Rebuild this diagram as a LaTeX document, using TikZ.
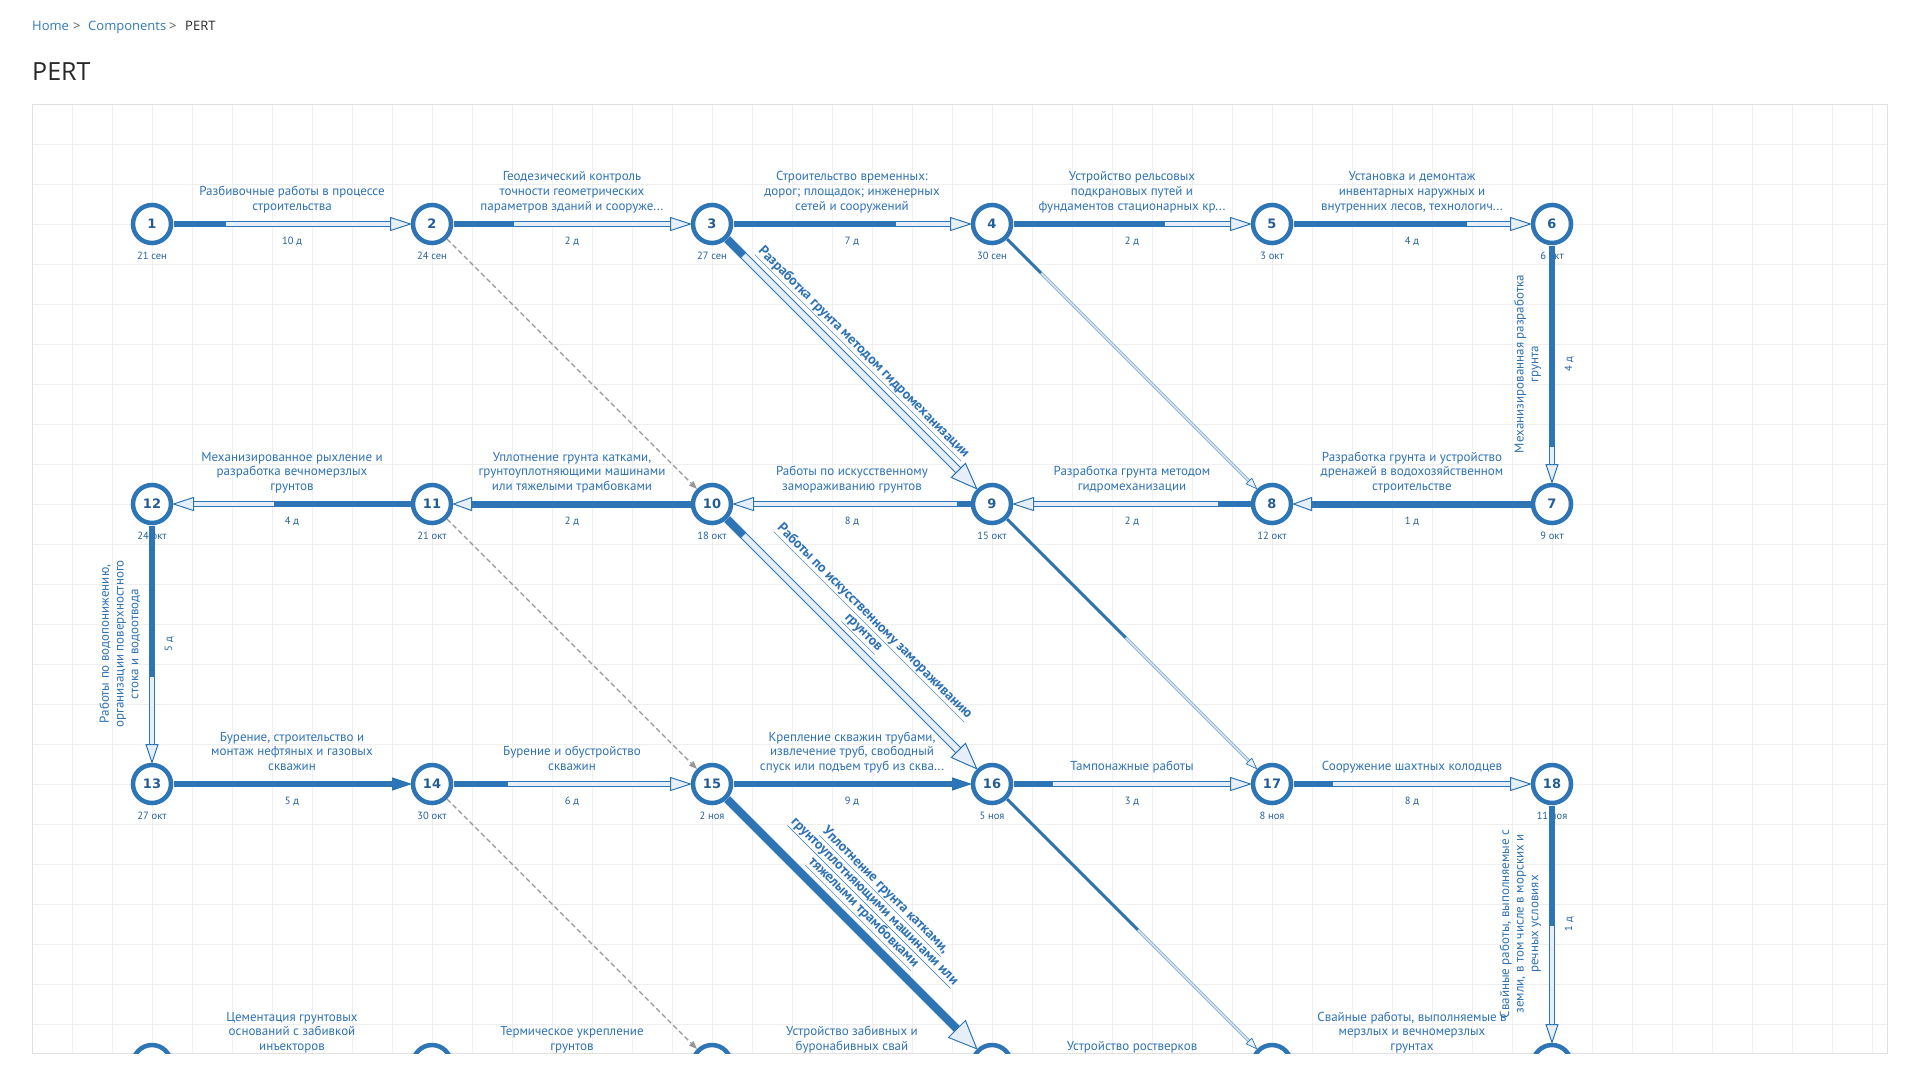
\documentclass[tikz,border=0pt]{standalone}
\usepackage{fontspec}
\setmainfont{PT Sans}
\newfontfamily\crumbfont{Open Sans}
\newfontfamily\numfont{DejaVu Sans}
\usetikzlibrary{calc,arrows.meta}

\definecolor{pblue}{RGB}{46,117,182}
\definecolor{plight}{RGB}{230,239,249}
\definecolor{ptext}{RGB}{47,114,180}
\definecolor{psmall}{RGB}{38,96,156}
\definecolor{numblue}{RGB}{36,92,150}
\definecolor{dgray}{RGB}{150,150,150}
\definecolor{gridc}{RGB}{239,239,239}
\definecolor{framec}{RGB}{224,224,224}
\definecolor{linkblue}{RGB}{51,122,183}
\definecolor{crumbsep}{RGB}{90,90,90}
\definecolor{headc}{RGB}{40,40,40}

\pgfdeclarelayer{back}
\pgfdeclarelayer{links}
\pgfsetlayers{back,links,main}

% activity arrow: from, to, progress, shaft width, tip length, tip half-width, tip fill
\newcommand\pertlink[7]{%
  \coordinate (es) at ($(#1.center)!21.5pt!(#2.center)$);
  \coordinate (ee) at ($(#2.center)!21.5pt!(#1.center)$);
  \coordinate (eb) at ($(ee)!#5pt!(es)$);
  \coordinate (ep) at ($(es)!#3!(eb)$);
  \pgfmathsetmacro\pertinner{#4>=5 ? #4-2 : #4*0.6}%
  \pgfmathsetmacro\pertrim{#4>=5 ? 1 : 0.7}%
  \draw[pblue, line width=#4pt] (es) -- (eb);
  \draw[plight, line width=\pertinner pt] (es) -- (eb);
  \draw[pblue, line width=#4pt] (es) -- (ep);
  \filldraw[fill=#7, draw=pblue, line width=\pertrim pt] (ee) -- ($(eb)!#6pt!90:(ee)$) -- ($(eb)!#6pt!-90:(ee)$) -- cycle;
}
% labels of horizontal and vertical activities
\newcommand\hlabel[4]{\node[lbl] (#1) at ($(#2.center)!0.5!(#3.center)+(0,-9)$) {#4\strut};}
\newcommand\hdur[4]{\node[small] (#1) at ($(#2.center)!0.5!(#3.center)+(0,20)$) {#4};}
\newcommand\vlabel[4]{\node[lbl, rotate=90] (#1) at ($(#2.center)!0.5!(#3.center)+(-9,0)$) {#4\strut};}
\newcommand\vdur[4]{\node[small, rotate=90] (#1) at ($(#2.center)!0.5!(#3.center)+(20,0)$) {#4};}
\newcommand\ndate[3]{\node[small] (#1) at ($(#2.center)+(0,35.5)$) {#3};}

\begin{document}
\begin{tikzpicture}[x=1pt, y=-1pt,
  vtx/.style={circle, draw=pblue, line width=4.5pt, fill=white, minimum size=38pt, inner sep=0pt,
    font=\numfont\bfseries\fontsize{13}{15}\selectfont, text=numblue},
  lbl/.style={font=\fontsize{13}{14.7}\selectfont, text=ptext, align=center, inner sep=0pt, anchor=south},
  small/.style={font=\fontsize{10.5}{12}\selectfont, text=psmall, inner sep=0pt, anchor=base},
  dlbl/.style={midway, sloped, anchor=south, font=\bfseries\fontsize{14}{15.5}\selectfont, text=ptext,
    align=center, inner sep=0pt, outer sep=8pt},
  dashlink/.style={draw=dgray, line width=1.2pt, dash pattern=on 5pt off 3pt,
    -{Triangle[length=8pt, width=6pt, fill=dgray]}},
  crumb/.style={font=\crumbfont\fontsize{13}{16}\selectfont, anchor=base west, inner sep=0pt},
  headline/.style={font=\crumbfont\fontsize{25}{30}\selectfont, anchor=base west, inner sep=0pt, text=headc},
  gridline/.style={draw=gridc, line width=1pt}]

\useasboundingbox (0,0) rectangle (1920,1080);

% ---------- event nodes ----------
\begin{scope}
\clip (32,104) rectangle (1887,1053);
\node[vtx] (n1) at (152,224) {1};
\node[vtx] (n2) at (432,224) {2};
\node[vtx] (n3) at (712,224) {3};
\node[vtx] (n4) at (992,224) {4};
\node[vtx] (n5) at (1272,224) {5};
\node[vtx] (n6) at (1552,224) {6};
\node[vtx] (n7) at (1552,504) {7};
\node[vtx] (n8) at (1272,504) {8};
\node[vtx] (n9) at (992,504) {9};
\node[vtx] (n10) at (712,504) {10};
\node[vtx] (n11) at (432,504) {11};
\node[vtx] (n12) at (152,504) {12};
\node[vtx] (n13) at (152,784) {13};
\node[vtx] (n14) at (432,784) {14};
\node[vtx] (n15) at (712,784) {15};
\node[vtx] (n16) at (992,784) {16};
\node[vtx] (n17) at (1272,784) {17};
\node[vtx] (n18) at (1552,784) {18};
\node[vtx] (n19) at (1552,1064) {};
\node[vtx] (n20) at (1272,1064) {};
\node[vtx] (n21) at (992,1064) {};
\node[vtx] (n22) at (712,1064) {};
\node[vtx] (n23) at (432,1064) {};
\node[vtx] (n24) at (152,1064) {};
\end{scope}

% ---------- page, header, grid and texts ----------
\begin{pgfonlayer}{back}
\fill[white] (0,0) rectangle (1920,1080);
\node[crumb, text=linkblue] (bcHome) at (32,30) {Home};
\node[crumb, text=crumbsep] (bcSepA) at (73,30) {>};
\node[crumb, text=linkblue] (bcComp) at (88,30) {Components};
\node[crumb, text=crumbsep] (bcSepB) at (169,30) {>};
\node[crumb, text=headc] (bcPert) at (185,30) {PERT};
\node[headline] (title) at (32,80) {PERT};

\foreach \i in {1,...,46} \draw[gridline] ({32+40*\i},104) -- ({32+40*\i},1053);
\foreach \j in {1,...,23} \draw[gridline] (32,{104+40*\j}) -- (1887,{104+40*\j});
\draw[framec, line width=1pt] (32,104) rectangle (1887,1053);

\begin{scope}
\clip (32,104) rectangle (1887,1053);
% row 1
\hlabel{l12}{n1}{n2}{Разбивочные работы в процессе\\строительства}
\hlabel{l23}{n2}{n3}{Геодезический контроль\\точности геометрических\\параметров зданий и сооруже...}
\hlabel{l34}{n3}{n4}{Строительство временных:\\дорог; площадок; инженерных\\сетей и сооружений}
\hlabel{l45}{n4}{n5}{Устройство рельсовых\\подкрановых путей и\\фундаментов стационарных кр...}
\hlabel{l56}{n5}{n6}{Установка и демонтаж\\инвентарных наружных и\\внутренних лесов, технологич...}
\hdur{t12}{n1}{n2}{10 д}
\hdur{t23}{n2}{n3}{2 д}
\hdur{t34}{n3}{n4}{7 д}
\hdur{t45}{n4}{n5}{2 д}
\hdur{t56}{n5}{n6}{4 д}
\vlabel{l67}{n6}{n7}{Механизированная разработка\\грунта}
\vdur{t67}{n6}{n7}{4 д}
% row 2
\hlabel{l78}{n7}{n8}{Разработка грунта и устройство\\дренажей в водохозяйственном\\строительстве}
\hlabel{l89}{n8}{n9}{Разработка грунта методом\\гидромеханизации}
\hlabel{l910}{n9}{n10}{Работы по искусственному\\замораживанию грунтов}
\hlabel{l1011}{n10}{n11}{Уплотнение грунта катками,\\грунтоуплотняющими машинами\\или тяжелыми трамбовками}
\hlabel{l1112}{n11}{n12}{Механизированное рыхление и\\разработка вечномерзлых\\грунтов}
\hdur{t78}{n7}{n8}{1 д}
\hdur{t89}{n8}{n9}{2 д}
\hdur{t910}{n9}{n10}{8 д}
\hdur{t1011}{n10}{n11}{2 д}
\hdur{t1112}{n11}{n12}{4 д}
\vlabel{l1213}{n12}{n13}{Работы по водопонижению,\\организации поверхностного\\стока и водоотвода}
\vdur{t1213}{n12}{n13}{5 д}
% row 3
\hlabel{l1314}{n13}{n14}{Бурение, строительство и\\монтаж нефтяных и газовых\\скважин}
\hlabel{l1415}{n14}{n15}{Бурение и обустройство\\скважин}
\hlabel{l1516}{n15}{n16}{Крепление скважин трубами,\\извлечение труб, свободный\\спуск или подъем труб из сква...}
\hlabel{l1617}{n16}{n17}{Тампонажные работы}
\hlabel{l1718}{n17}{n18}{Сооружение шахтных колодцев}
\hdur{t1314}{n13}{n14}{5 д}
\hdur{t1415}{n14}{n15}{6 д}
\hdur{t1516}{n15}{n16}{9 д}
\hdur{t1617}{n16}{n17}{3 д}
\hdur{t1718}{n17}{n18}{8 д}
\vlabel{l1819}{n18}{n19}{Свайные работы, выполняемые с\\земли, в том числе в морских и\\речных условиях}
\vdur{t1819}{n18}{n19}{1 д}
% row 4
\hlabel{l1920}{n19}{n20}{Свайные работы, выполняемые в\\мерзлых и вечномерзлых\\грунтах}
\hlabel{l2021}{n20}{n21}{Устройство ростверков}
\hlabel{l2122}{n21}{n22}{Устройство забивных и\\буронабивных свай}
\hlabel{l2223}{n22}{n23}{Термическое укрепление\\грунтов}
\hlabel{l2324}{n23}{n24}{Цементация грунтовых\\оснований с забивкой\\инъекторов}
% event dates
\ndate{e1}{n1}{21 сен}
\ndate{e2}{n2}{24 сен}
\ndate{e3}{n3}{27 сен}
\ndate{e4}{n4}{30 сен}
\ndate{e5}{n5}{3 окт}
\ndate{e6}{n6}{6 окт}
\ndate{e7}{n7}{9 окт}
\ndate{e8}{n8}{12 окт}
\ndate{e9}{n9}{15 окт}
\ndate{e10}{n10}{18 окт}
\ndate{e11}{n11}{21 окт}
\ndate{e12}{n12}{24 окт}
\ndate{e13}{n13}{27 окт}
\ndate{e14}{n14}{30 окт}
\ndate{e15}{n15}{2 ноя}
\ndate{e16}{n16}{5 ноя}
\ndate{e17}{n17}{8 ноя}
\ndate{e18}{n18}{11 ноя}
% labels of the diagonal activities
\path (n3) -- (n9) node[dlbl] (d39) {\underline{Разработка грунта методом гидромеханизации}};
\path (n10) -- (n16) node[dlbl] (d1016) {\underline{Работы по искусственному замораживанию}\\\underline{грунтов}};
\path (n15) -- (n21) node[dlbl] (d1521) {\underline{Уплотнение грунта катками,}\\\underline{грунтоуплотняющими машинами или}\\\underline{тяжелыми трамбовками}};
\end{scope}
\end{pgfonlayer}

% ---------- activities ----------
\begin{pgfonlayer}{links}
\begin{scope}
\clip (32,104) rectangle (1887,1053);
\draw[dashlink] (n2) -- (n10);
\draw[dashlink] (n11) -- (n15);
\draw[dashlink] (n14) -- (n22);

\pertlink{n1}{n2}{0.24}{6}{20}{6.5}{plight}
\pertlink{n2}{n3}{0.28}{6}{20}{6.5}{plight}
\pertlink{n3}{n4}{0.75}{6}{20}{6.5}{plight}
\pertlink{n4}{n5}{0.70}{6}{20}{6.5}{plight}
\pertlink{n5}{n6}{0.80}{6}{20}{6.5}{plight}
\pertlink{n6}{n7}{0.92}{6}{18}{6}{plight}
\pertlink{n7}{n8}{1}{7}{18}{6.5}{plight}
\pertlink{n8}{n9}{0.15}{6}{20}{6.5}{plight}
\pertlink{n9}{n10}{0.06}{6}{20}{6.5}{plight}
\pertlink{n10}{n11}{1}{7}{18}{6.5}{plight}
\pertlink{n11}{n12}{0.63}{6}{20}{6.5}{plight}
\pertlink{n12}{n13}{0.69}{6}{18}{6}{plight}
\pertlink{n13}{n14}{1}{6}{18}{6}{pblue}
\pertlink{n14}{n15}{0.25}{6}{20}{6.5}{plight}
\pertlink{n15}{n16}{1}{6}{18}{6}{pblue}
\pertlink{n16}{n17}{0.18}{6}{20}{6.5}{plight}
\pertlink{n17}{n18}{0.18}{6}{20}{6.5}{plight}
\pertlink{n18}{n19}{0.55}{6}{18}{6}{plight}

\pertlink{n3}{n9}{0.07}{8}{26}{10}{plight}
\pertlink{n4}{n8}{0.14}{2.8}{11}{4}{plight}
\pertlink{n9}{n17}{0.49}{2.8}{11}{4}{plight}
\pertlink{n10}{n16}{0.07}{8}{26}{10}{plight}
\pertlink{n15}{n21}{1}{8}{28}{12}{plight}
\pertlink{n16}{n20}{0.54}{2.8}{11}{4}{plight}
\end{scope}
\end{pgfonlayer}
\end{tikzpicture}
\end{document}
